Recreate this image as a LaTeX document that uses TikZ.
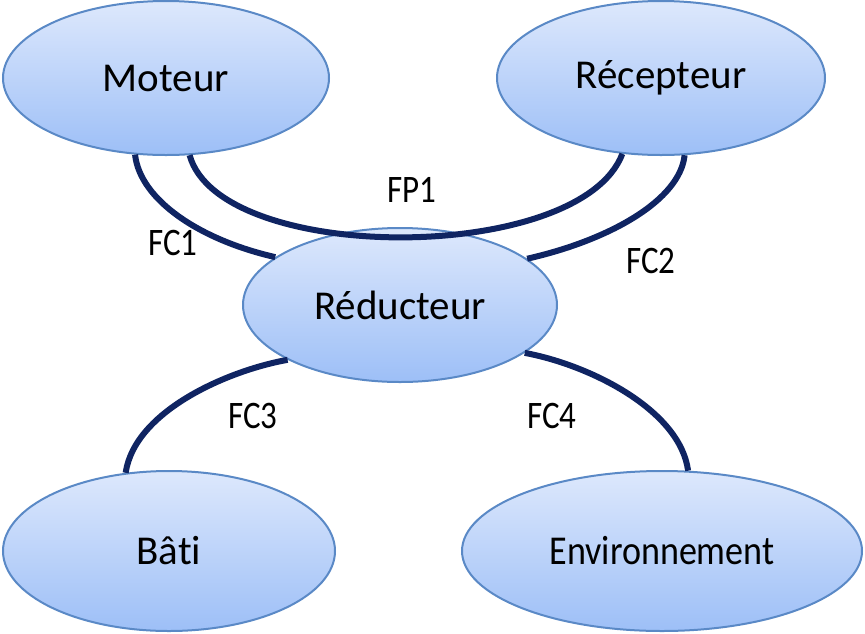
\documentclass[tikz,border=0pt]{standalone}
\usepackage{fontspec}
\setmainfont[Ligatures=NoCommon]{Carlito}
\usetikzlibrary{shapes.geometric}
\definecolor{topc}{HTML}{DDE8FC}
\definecolor{botc}{HTML}{9DBFF7}
\definecolor{edgec}{HTML}{5A89C6}
\definecolor{linkc}{HTML}{0F2462}
\tikzset{
  elli/.style={ellipse, draw=edgec, line width=2pt, top color=topc, bottom color=botc,
    inner sep=0pt, font=\fontsize{41}{44}\selectfont},
  link/.style={draw=linkc, line width=6pt},
  lab/.style={font=\fontsize{33}{36}\selectfont, inner sep=0pt}
}
\begin{document}
\begin{tikzpicture}[x=1pt,y=-1pt]
\useasboundingbox (0,0) rectangle (865,633);
\node[elli, minimum width=326pt, minimum height=154pt] (mot) at (166,78) {Moteur};
\node[elli, minimum width=328pt, minimum height=154pt] (rec) at (661,78) {Récepteur};
\node[elli, minimum width=314pt, minimum height=154pt] (red) at (400,305) {Réducteur};
\node[elli, minimum width=332pt, minimum height=160pt] (bat) at (169,551) {Bâti};
\node[elli, minimum width=400pt, minimum height=160pt] (env) at (662,551) {\scalebox{0.88}[1]{Environnement}};

\draw[link] (mot.-112) .. controls (140,200) and (200,240) .. (red.159);
\draw[link] (rec.-73) .. controls (680,200) and (610,240) .. (red.20);
\draw[link] (mot.-73) .. controls (220,265) and (580,265) .. (rec.-117);
\draw[link] (red.-154) .. controls (230,370) and (135,410) .. (bat.119);
\draw[link] (red.-21) .. controls (590,365) and (680,410) .. (env.72);

\node[lab] (fc1) at (173,243) {\scalebox{1}[1.18]{FC1}};
\node[lab] (fp1) at (412,190) {\scalebox{1}[1.18]{FP1}};
\node[lab] (fc2) at (651,261) {\scalebox{1}[1.18]{FC2}};
\node[lab] (fc3) at (253,416) {\scalebox{1}[1.18]{FC3}};
\node[lab] (fc4) at (552,416) {\scalebox{1}[1.18]{FC4}};
\end{tikzpicture}
\end{document}
